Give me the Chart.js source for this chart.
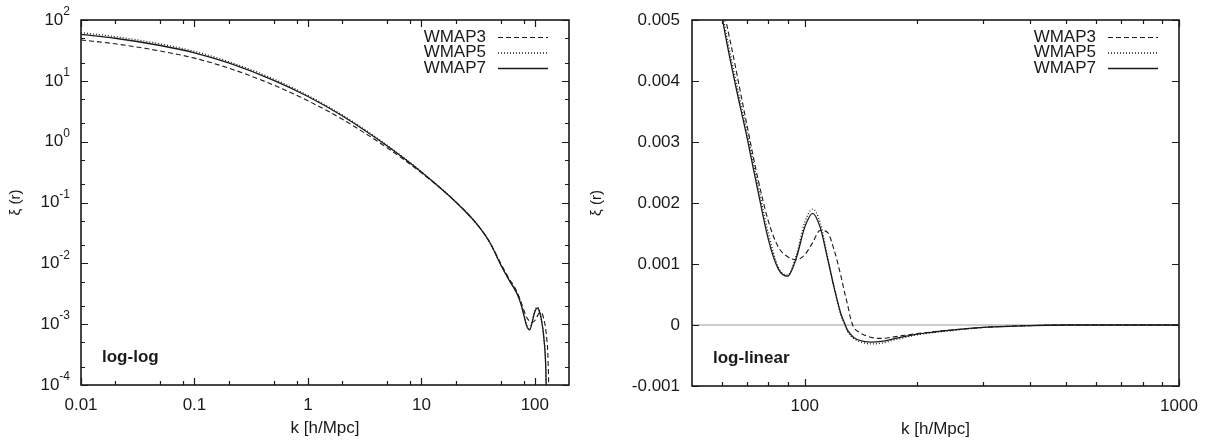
<!DOCTYPE html>
<html>
<head>
<meta charset="utf-8">
<script src="https://cdn.jsdelivr.net/npm/chart.js@4.4.1/dist/chart.umd.min.js"></script>
<style>
  body { margin: 0; background: #fff; }
  #wrap { position: relative; width: 1213px; height: 441px; }
  canvas { position: absolute; top: 0; }
</style>
</head>
<body>
<div id="wrap">
  <canvas id="left" width="575" height="441" style="left:0"></canvas>
  <canvas id="right" width="638" height="441" style="left:575px"></canvas>
</div>
<script>
// k grid shared by the three models
const kValues = [0.01, 0.02, 0.05, 0.1, 0.2, 0.5, 1, 2, 5, 10, 20, 30, 40, 50, 55, 60, 65, 70, 75, 80,
  85, 90, 95, 100, 105, 110, 115, 120, 125, 128, 130, 133, 135, 140, 150, 160, 175, 200, 250, 300,
  400, 500, 700, 1000];

const wmap3 = [47, 40.6, 30.9, 23.6, 16.2, 8.5, 4.7, 2.35, 0.79, 0.308, 0.103, 0.047, 0.0222, 0.01, 0.0072, 0.0054, 0.0043, 0.0033, 0.0024, 0.0017,
  0.00128, 0.00112, 0.00107, 0.00115, 0.00135, 0.00155, 0.00152, 0.00122, 0.0008, 0.00052, 0.00035, 0.00008, -0.00003, -0.00012, -0.0002, -0.00022, -0.00019, -0.00014, -0.00008, -0.00004,
  -0.00001, 0, 0, 0];

const wmap5 = [62, 53.3, 40.4, 30.5, 20.7, 10.7, 5.75, 2.76, 0.87, 0.321, 0.103, 0.047, 0.0222, 0.0096, 0.0069, 0.0052, 0.0041, 0.0032, 0.0023, 0.0015,
  0.00095, 0.00082, 0.00115, 0.00168, 0.0019, 0.00168, 0.00113, 0.0006, 0.00016, 0.00001, -0.0001, -0.00018, -0.00022, -0.00027, -0.00031, -0.0003, -0.00024, -0.00016, -0.00009, -0.00004,
  -0.00001, 0, 0, 0];

const wmap7 = [58, 50.1, 38.1, 28.9, 19.7, 10.2, 5.53, 2.67, 0.85, 0.318, 0.103, 0.047, 0.0222, 0.0095, 0.0068, 0.0051, 0.004, 0.0031, 0.0022, 0.0014,
  0.00092, 0.0008, 0.0011, 0.0016, 0.00183, 0.0016, 0.0011, 0.0006, 0.00018, 0.00002, -0.00008, -0.00016, -0.0002, -0.00025, -0.00028, -0.00027, -0.00022, -0.00015, -0.00008, -0.00004,
  -0.00001, 0, 0, 0];

const seriesNames = ["WMAP3", "WMAP5", "WMAP7"];

// tick positions
const leftXMajor = [0.01, 0.1, 1, 10, 100];
const leftXMinor = [0.02, 0.05, 0.08, 0.2, 0.5, 0.8, 2, 5, 8, 20, 50, 80];
const leftYMajor = [1e-4, 1e-3, 1e-2, 1e-1, 1, 10, 100];
const leftYMinor = [2e-4, 5e-4, 2e-3, 5e-3, 2e-2, 5e-2, 0.2, 0.5, 2, 5, 20, 50];
const rightXMajor = [100, 1000];
const rightXMinor = [60, 70, 80, 90, 200, 300, 400, 500, 600, 700, 800, 900];
const rightYMajor = [-0.001, 0, 0.001, 0.002, 0.003, 0.004, 0.005];

const FONT = '"Liberation Sans", Arial, Helvetica, sans-serif';
const INK = "#1a1a1a";

const styles = [
  { borderDash: [5, 3], borderWidth: 1.1 },
  { borderDash: [1, 2], borderWidth: 1.3 },
  { borderDash: [], borderWidth: 1.3 }
];

function makeSets(filter) {
  return [wmap3, wmap5, wmap7].map((arr, i) => ({
    label: seriesNames[i],
    data: kValues.map((k, j) => ({ x: k, y: arr[j] })).filter(filter),
    borderColor: INK,
    borderWidth: styles[i].borderWidth,
    borderDash: styles[i].borderDash,
    pointRadius: 0,
    cubicInterpolationMode: "monotone",
    fill: false
  }));
}

function supLabel(ctx, v, x, y) {
  const e = Math.round(Math.log10(v));
  ctx.font = "17px " + FONT;
  const w1 = ctx.measureText("10").width;
  ctx.font = "12px " + FONT;
  const w2 = ctx.measureText(String(e)).width;
  const x0 = x - w1 - w2;
  ctx.textAlign = "left";
  ctx.textBaseline = "middle";
  ctx.font = "17px " + FONT;
  ctx.fillText("10", x0, y);
  ctx.font = "12px " + FONT;
  ctx.fillText(String(e), x0 + w1, y - 8);
}

function decor(o) {
  return {
    id: "decor",
    beforeDatasetsDraw(chart) {
      if (!o.zero) return;
      const { ctx, chartArea: a, scales } = chart;
      const y = scales.y.getPixelForValue(0);
      ctx.save();
      ctx.strokeStyle = "#999";
      ctx.lineWidth = 1.2;
      ctx.beginPath();
      ctx.moveTo(a.left, y);
      ctx.lineTo(a.right, y);
      ctx.stroke();
      ctx.restore();
    },
    afterDraw(chart) {
      const { ctx, chartArea: a, scales } = chart;
      const sx = scales.x, sy = scales.y;
      ctx.save();
      ctx.strokeStyle = INK;
      ctx.fillStyle = INK;
      ctx.lineWidth = 1.2;

      const tick = (vals, len, isX) => {
        vals.forEach(v => {
          ctx.beginPath();
          if (isX) {
            const x = Math.round(sx.getPixelForValue(v)) + 0.5;
            ctx.moveTo(x, a.bottom); ctx.lineTo(x, a.bottom - len);
            ctx.moveTo(x, a.top); ctx.lineTo(x, a.top + len);
          } else {
            const y = Math.round(sy.getPixelForValue(v)) + 0.5;
            ctx.moveTo(a.left, y); ctx.lineTo(a.left + len, y);
            ctx.moveTo(a.right, y); ctx.lineTo(a.right - len, y);
          }
          ctx.stroke();
        });
      };
      tick(o.xMajor, 7, true);
      tick(o.xMinor, 4, true);
      tick(o.yMajor, 7, false);
      tick(o.yMinor || [], 4, false);

      // frame
      ctx.lineWidth = 1.6;
      ctx.strokeRect(a.left, a.top, a.right - a.left, a.bottom - a.top);

      // tick labels
      ctx.font = "17px " + FONT;
      ctx.textAlign = "center";
      ctx.textBaseline = "middle";
      o.xMajor.forEach(v => {
        ctx.fillText(String(v), sx.getPixelForValue(v), a.bottom + 20);
      });
      o.yMajor.forEach(v => {
        const y = sy.getPixelForValue(v);
        if (o.yLog) {
          supLabel(ctx, v, a.left - 11, y);
        } else {
          ctx.font = "17px " + FONT;
          ctx.textAlign = "right";
          ctx.textBaseline = "middle";
          ctx.fillText(v === 0 ? "0" : v.toFixed(3), a.left - 12, y);
        }
      });

      // axis titles
      ctx.font = "17px " + FONT;
      ctx.textAlign = "center";
      ctx.textBaseline = "middle";
      ctx.fillText("k [h/Mpc]", (a.left + a.right) / 2, a.bottom + 43);
      ctx.save();
      ctx.translate(o.yTitleX, (a.top + a.bottom) / 2);
      ctx.rotate(-Math.PI / 2);
      ctx.font = "15px " + FONT;
      ctx.fillText("ξ (r)", 0, 0);
      ctx.restore();

      // panel tag
      ctx.font = "bold 17px " + FONT;
      ctx.textAlign = "left";
      ctx.fillText(o.tag, a.left + 21, a.bottom - 28);

      // legend
      seriesNames.forEach((n, i) => {
        const y = a.top + 17 + i * 15.5;
        ctx.font = "17px " + FONT;
        ctx.textAlign = "right";
        ctx.textBaseline = "middle";
        ctx.fillText(n, a.right - 83, y);
        ctx.lineWidth = styles[i].borderWidth;
        ctx.setLineDash(styles[i].borderDash);
        ctx.beginPath();
        ctx.moveTo(a.right - 71, y + 0.5);
        ctx.lineTo(a.right - 21, y + 0.5);
        ctx.stroke();
        ctx.setLineDash([]);
      });
      ctx.restore();
    }
  };
}

function hiddenScale(extra) {
  return Object.assign({
    ticks: { display: false },
    grid: { display: false, drawTicks: false },
    border: { display: false },
    afterFit(s) { if (s.isHorizontal()) s.height = 0; else s.width = 0; }
  }, extra);
}

new Chart(document.getElementById("left"), {
  type: "line",
  data: { datasets: makeSets(p => p.y > 0 && p.x <= 200) },
  options: {
    responsive: false,
    animation: false,
    devicePixelRatio: 1,
    layout: { padding: { left: 81, top: 20, right: 6, bottom: 56 } },
    plugins: { legend: { display: false }, tooltip: { enabled: false } },
    scales: {
      x: hiddenScale({ type: "logarithmic", min: 0.01, max: 200 }),
      y: hiddenScale({ type: "logarithmic", min: 1e-4, max: 100 })
    }
  },
  plugins: [decor({
    xMajor: leftXMajor, xMinor: leftXMinor, yMajor: leftYMajor, yMinor: leftYMinor,
    yLog: true, zero: false, tag: "log-log", yTitleX: 16
  })]
});

new Chart(document.getElementById("right"), {
  type: "line",
  data: { datasets: makeSets(p => p.x >= 40) },
  options: {
    responsive: false,
    animation: false,
    devicePixelRatio: 1,
    layout: { padding: { left: 117, top: 20, right: 34, bottom: 55 } },
    plugins: { legend: { display: false }, tooltip: { enabled: false } },
    scales: {
      x: hiddenScale({ type: "logarithmic", min: 50, max: 1000 }),
      y: hiddenScale({ type: "linear", min: -0.001, max: 0.005 })
    }
  },
  plugins: [decor({
    xMajor: rightXMajor, xMinor: rightXMinor, yMajor: rightYMajor,
    yLog: false, zero: true, tag: "log-linear", yTitleX: 22
  })]
});
</script>
</body>
</html>
